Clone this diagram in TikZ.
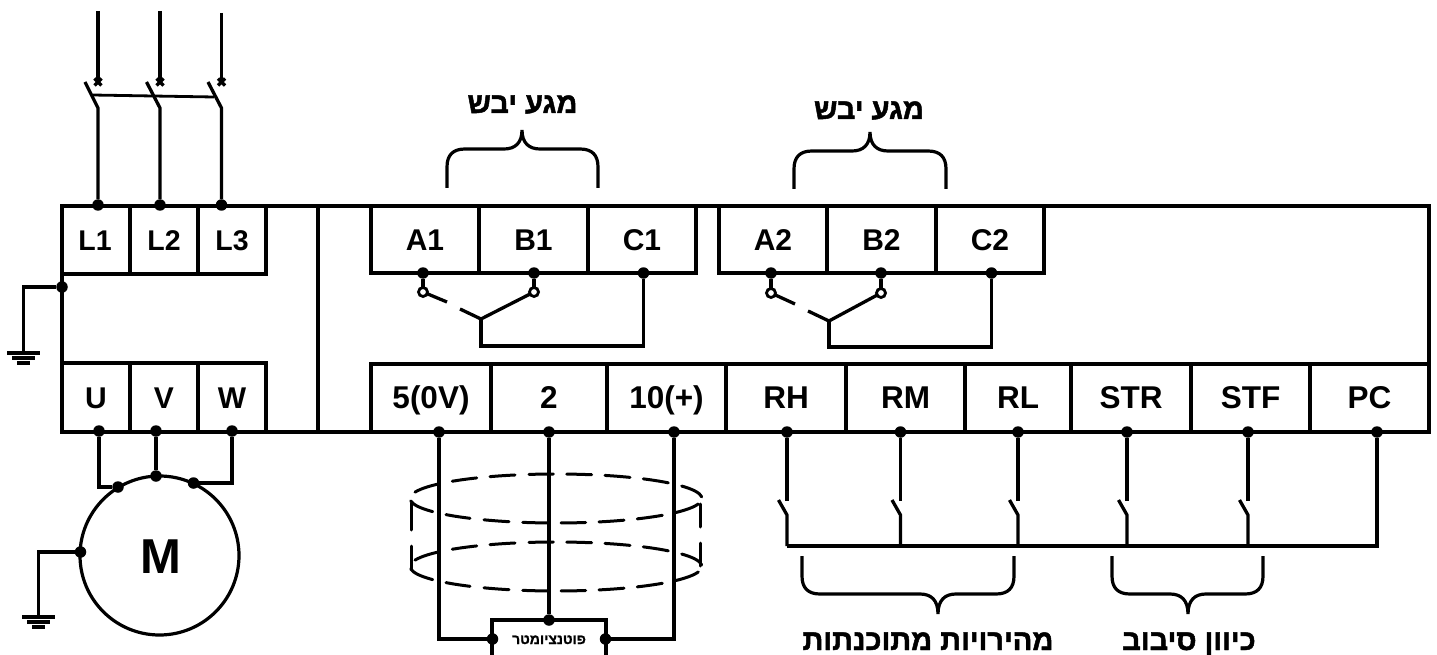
\documentclass[tikz,border=0pt]{standalone}
\usepackage{fontspec}
\setmainfont{Liberation Sans}
\newfontface\heb[Script=Hebrew,FakeBold=1.6]{Liberation Sans Bold}
\newfontface\hebsmall[Script=Hebrew,FakeBold=1.2]{Liberation Sans Bold}
\TeXXeTstate=1
\usetikzlibrary{calc}
\newcommand{\lowfont}{\fontsize{31.5}{31.5}\selectfont}
\newcommand{\lfont}{\fontsize{28.5}{28.5}\selectfont}
\tikzset{
  wire/.style={line width=3.3pt,line cap=butt,line join=miter,black},
  thinwire/.style={line width=2.8pt,line cap=butt,black},
  frameline/.style={draw,line width=4pt,inner sep=0pt,outer sep=0pt},
  term/.style={draw,line width=3.3pt,inner sep=0pt,outer sep=0pt,align=center,
    font=\fontsize{30}{30}\selectfont\bfseries,text height=21pt,text depth=0pt},
  jdot/.style={circle,fill=black,draw=none,minimum size=11.5pt,inner sep=0pt,outer sep=0pt},
  hollow/.style={circle,draw,fill=white,line width=2.8pt,minimum size=9pt,inner sep=0pt,outer sep=0pt},
  hlabel/.style={inner sep=0pt,anchor=base,font=\fontsize{29}{29}\selectfont\heb},
  cable/.style={line width=3pt,line cap=round,black},
  bracestroke/.style={line width=3.2pt,line cap=butt,black}
}
% name, x1, x2, y1, y2, text
\newcommand{\termbox}[6]{\node[term,minimum width={(#3-#2)*1pt},minimum height={(#5-#4)*1pt}] (#1) at ({(#2+#3)/2},{(#4+#5)/2}) {#6};}
% x1, xtip, x2, ybase, yh, ytip, sign
\newcommand{\mybrace}[7]{\draw[bracestroke] (#1,#4) -- (#1,{#5+#7*18}) .. controls (#1,{#5+#7*6}) and ({#1+6},#5) .. ({#1+18},#5) -- ({#2-18},#5) .. controls ({#2-7},#5) and (#2,{#5-#7*6}) .. (#2,#6) .. controls (#2,{#5-#7*6}) and ({#2+7},#5) .. ({#2+18},#5) -- ({#3-18},#5) .. controls ({#3-6},#5) and (#3,{#5+#7*6}) .. (#3,{#5+#7*18}) -- (#3,#4);}
% cy
\newcommand{\cableloop}[1]{
  \foreach \a/\b in {415/438.3,452.3/476.7,490/515,529/553.3,566.7/591.7,605/630,643.3/668.3,681.7/701.7}
    \draw[cable] plot[domain=\a:\b,samples=9,smooth] (\x,{#1-24.5*sqrt(1-((\x-556)/146)^2)});
  \foreach \a/\b in {410.7/432.7,446/470,484/509,522.7/546.7,561/585.7,599/624,637.3/662.3,675.7/698.3}
    \draw[cable] plot[domain=\a:\b,samples=9,smooth] (\x,{#1+24.5*sqrt(1-((\x-556)/146)^2)});
}
% name, x of wire
\newcommand{\ctlswitch}[2]{
  \coordinate (#1a) at (#2,501);
  \coordinate (#1l) at ({#2-8.5},500);
  \coordinate (#1k) at (#2,515);
  \coordinate (#1b) at (#2,546);
  \draw[wire] (d#1) -- (#1a);
  \draw[wire] (#1l) -- (#1k) -- (#1b);
}
\begin{document}
\begin{tikzpicture}[x=1pt,y=-1pt]
\useasboundingbox (0,0) rectangle (1437,655);

% drive frame
\node[frameline,minimum width=1367pt,minimum height=226pt] (drive) at (745.5,319) {};
\coordinate (divT) at (318,206); \coordinate (divB) at (318,432);
\draw[wire] (divT) -- (divB);

% terminals
\termbox{L1}{62}{130}{206}{274}{\lfont\hspace*{-2pt}L1}
\termbox{L2}{130}{198}{206}{274}{\lfont L2}
\termbox{L3}{198}{266}{206}{274}{\lfont L3}
\termbox{U}{62}{130}{363}{432}{U}
\termbox{V}{130}{198}{363}{432}{V}
\termbox{W}{198}{266}{363}{432}{W}
\termbox{A1}{371}{479}{206}{273}{A1}
\termbox{B1}{479}{588}{206}{273}{B1}
\termbox{C1}{588}{696}{206}{273}{C1}
\termbox{A2}{719}{827}{206}{273}{A2}
\termbox{B2}{827}{936}{206}{273}{B2}
\termbox{C2}{936}{1044}{206}{273}{C2}
\termbox{T5}{371}{491}{364}{432}{\lowfont 5(0V)}
\termbox{T2}{491}{607}{364}{432}{\lowfont 2}
\termbox{T10}{607}{726}{364}{432}{\lowfont 10(+)}
\termbox{RH}{726}{846}{364}{432}{\lowfont RH}
\termbox{RM}{846}{965}{364}{432}{\lowfont RM}
\termbox{RL}{965}{1071}{364}{432}{\lowfont RL}
\termbox{STR}{1071}{1191}{364}{432}{\lowfont STR}
\termbox{STF}{1191}{1310}{364}{432}{\lowfont STF}
\termbox{PC}{1310}{1429}{364}{432}{\lowfont PC}

% mains input
\node[jdot] (dL1) at (98,205) {};
\node[jdot] (dL2) at (160,205) {};
\node[jdot] (dL3) at (221.5,205) {};
\foreach \n/\x/\t/\lx in {1/98/11/85,2/160/11/146.5,3/221.5/13/208}{
  \coordinate (in\n) at (\x,\t);
  \coordinate (x\n) at (\x,82);
  \coordinate (lev\n) at (\lx,82);
  \coordinate (kn\n) at (\x,108);
  \draw[wire] (in\n) -- (x\n);
  \draw[wire] (x\n)+(-3.5,-3.5) -- +(3.5,3.5);
  \draw[wire] (x\n)+(3.5,-3.5) -- +(-3.5,3.5);
  \draw[wire] (lev\n) -- (kn\n) -- (dL\n);
}
\coordinate (tieA) at (92.5,95); \coordinate (tieB) at (214,97);
\draw[thinwire] (tieA) -- (tieB);

% earth on the drive
\node[jdot] (dE) at (62,287) {};
\coordinate (gA) at (23.5,352.5);
\draw[wire] (dE) -| (gA);
\draw[wire] (7,353) -- (40,353);
\draw[wire] (12,358) -- (35,358);
\draw[wire] (17,363) -- (30,363);

% motor
\node[circle,draw,line width=3.2pt,minimum size=159pt,inner sep=0pt,outer sep=0pt,font=\fontsize{49}{49}\selectfont\bfseries,text height=35pt,text depth=0pt] (motor) at (159.5,555.5) {\hspace*{3pt}M};
\node[jdot] (dU) at (99,431) {};
\node[jdot] (dV) at (156,431) {};
\node[jdot] (dW) at (232,431) {};
\node[jdot] (mU) at (118,487) {};
\node[jdot] (mV) at (156,476) {};
\node[jdot] (mW) at (193.5,483) {};
\node[jdot] (mE) at (80.5,552) {};
\draw[wire] (dU) |- (mU);
\draw[wire] (dV) -- (mV);
\draw[wire] (dW) |- (mW);
\coordinate (gB) at (38.5,616.5);
\draw[wire] (mE) -| (gB);
\draw[wire] (22,617) -- (55,617);
\draw[wire] (27,622) -- (50,622);
\draw[wire] (32,627) -- (45,627);

% relay 1
\node[jdot] (dA1) at (423,273) {};
\node[jdot] (dB1) at (534,273) {};
\node[jdot] (dC1) at (643.5,273) {};
\node[hollow] (oA1) at (423,292) {};
\node[hollow] (oB1) at (534,292) {};
\coordinate (jr1) at (481,319);
\coordinate (g1a) at (447,302); \coordinate (g1b) at (460,309);
\coordinate (cr1) at (481,346);
\draw[wire] (dA1) -- (oA1); \draw[wire] (dB1) -- (oB1);
\draw[wire] (oA1) -- (g1a);
\draw[wire] (g1b) -- (jr1) -- (oB1);
\draw[wire] (jr1) -- (cr1) -| (dC1);

% relay 2
\node[jdot] (dA2) at (771,273) {};
\node[jdot] (dB2) at (881,273) {};
\node[jdot] (dC2) at (991.5,273) {};
\node[hollow] (oA2) at (771,293) {};
\node[hollow] (oB2) at (881,293) {};
\coordinate (jr2) at (829,321);
\coordinate (g2a) at (795,304); \coordinate (g2b) at (808,311);
\coordinate (cr2) at (829,347);
\draw[wire] (dA2) -- (oA2); \draw[wire] (dB2) -- (oB2);
\draw[wire] (oA2) -- (g2a);
\draw[wire] (g2b) -- (jr2) -- (oB2);
\draw[wire] (jr2) -- (cr2) -| (dC2);

% upper braces and labels
\mybrace{447}{522}{598}{188}{149}{130}{1}
\mybrace{794}{870}{946}{189}{151}{132}{1}
\node[hlabel] (lab1) at (522.5,113) {\beginR מגע יבש\endR};
\node[hlabel] (lab2) at (869,119) {\beginR מגע יבש\endR};

% potentiometer
\node[jdot] (d5) at (439,432) {};
\node[jdot] (d2) at (549,432) {};
\node[jdot] (d10) at (674,432) {};
\coordinate (potTL) at (492,620); \coordinate (potTR) at (606,620);
\coordinate (potBL) at (492,660); \coordinate (potBR) at (606,660);
\draw[wire] (potBL) -- (potTL) -- (potTR) -- (potBR);
\node[jdot] (p2) at (549,620) {};
\node[jdot] (p5) at (492.5,639) {};
\node[jdot] (p10) at (605.5,639) {};
\node[inner sep=0pt,anchor=base,font=\fontsize{14}{14}\selectfont\hebsmall] (potlab) at (549,644) {\beginR פוטנציומטר\endR};
\draw[wire] (d2) -- (p2);
\draw[wire] (d5) |- (p5);
\draw[wire] (d10) |- (p10);

% cable screen
\cableloop{498.5}
\cableloop{566.5}
\draw[cable] (411,503) -- (411,530);
\draw[cable] (411,546) -- (411,569);
\draw[cable] (700,504) -- (700,527);
\draw[cable] (700,543) -- (700,566);

% control inputs
\node[jdot] (dRH) at (787,432) {};
\node[jdot] (dRM) at (900.5,432) {};
\node[jdot] (dRL) at (1018,432) {};
\node[jdot] (dSTR) at (1127,432) {};
\node[jdot] (dSTF) at (1248,432) {};
\node[jdot] (dPC) at (1377,432) {};
\ctlswitch{RH}{787}
\ctlswitch{RM}{900.5}
\ctlswitch{RL}{1018}
\ctlswitch{STR}{1127}
\ctlswitch{STF}{1248}
\coordinate (busR) at (1377,546);
\draw[wire] (RHb) -- (busR) -- (dPC);

% lower braces and labels
\mybrace{802}{938}{1014}{556}{594}{614}{-1}
\mybrace{1112}{1188}{1263}{556}{594}{614}{-1}
\node[hlabel] (lab3) at (928,650) {\beginR מהירויות מתוכנתות\endR};
\node[hlabel] (lab4) at (1189,650) {\beginR כיוון סיבוב\endR};
\end{tikzpicture}
\end{document}
